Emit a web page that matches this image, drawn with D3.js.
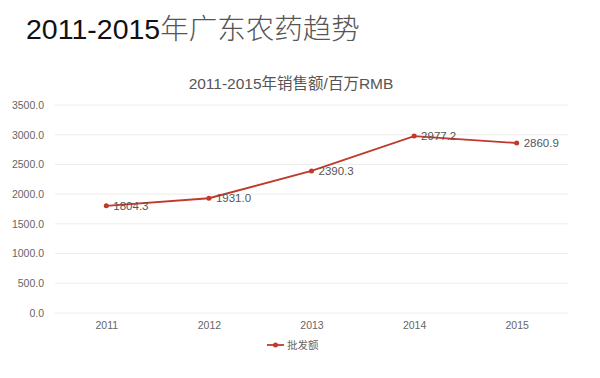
<!DOCTYPE html>
<html lang="zh">
<head>
    <meta charset="utf-8" />
    <title>2011-2015年广东农药趋势</title>
    <script src="https://cdnjs.cloudflare.com/ajax/libs/d3/7.8.5/d3.min.js"></script>
    <style>
        body { margin: 0; background: #fff; }
        svg { display: block; font-family: "Liberation Sans", Arial, "Noto Sans CJK SC", sans-serif; }
        .grid line { stroke: #ececec; }
        .axis text { fill: #666; font-size: 10.5px; }
    </style>
</head>
<body>
<script>
    // Data
    const years = ["2011", "2012", "2013", "2014", "2015"];
    const sales = [1804.3, 1931.0, 2390.3, 2977.2, 2860.9];
    const yTicks = [0, 500, 1000, 1500, 2000, 2500, 3000, 3500];
    const seriesName = "批发额";

    const W = 600, H = 378;
    const margin = { top: 105, bottom: 65, left: 55, right: 32 };
    const color = "#c0392b";

    const svg = d3.select("body").append("svg")
        .attr("width", W)
        .attr("height", H);

    // Page heading
    const head = svg.append("text")
        .attr("x", 26)
        .attr("y", 39)
        .style("font-size", "28.5px");
    head.append("tspan").attr("fill", "#111").text("2011-2015");
    head.append("tspan").attr("fill", "#555")
        .style("font-family", "'Noto Sans CJK SC', sans-serif")
        .style("font-weight", "300")
        .text("年广东农药趋势");

    // Chart title
    svg.append("text")
        .attr("x", 291)
        .attr("y", 89)
        .attr("text-anchor", "middle")
        .attr("fill", "#555")
        .style("font-size", "15.5px")
        .text("2011-2015年销售额/百万RMB");

    const x = d3.scalePoint()
        .domain(years)
        .range([margin.left, W - margin.right])
        .padding(0.5);

    const y = d3.scaleLinear()
        .domain([0, 3500])
        .range([H - margin.bottom, margin.top]);

    // Grid lines
    svg.append("g").attr("class", "grid")
        .selectAll("line")
        .data(yTicks)
        .join("line")
        .attr("x1", margin.left)
        .attr("x2", W - margin.right)
        .attr("y1", d => y(d))
        .attr("y2", d => y(d));

    // Y axis
    const gy = svg.append("g").attr("class", "axis")
        .attr("transform", `translate(${margin.left - 8},0)`)
        .call(d3.axisLeft(y).tickValues(yTicks).tickFormat(d3.format(".1f")).tickSize(0));
    gy.select(".domain").remove();

    // X axis
    const gx = svg.append("g").attr("class", "axis")
        .attr("transform", `translate(0,${H - margin.bottom + 6})`)
        .call(d3.axisBottom(x).tickSize(0));
    gx.select(".domain").remove();

    // Line
    const pts = years.map((yr, i) => ({ year: yr, value: sales[i] }));
    const line = d3.line().x(d => x(d.year)).y(d => y(d.value));

    svg.append("path")
        .datum(pts)
        .attr("fill", "none")
        .attr("stroke", color)
        .attr("stroke-width", 1.8)
        .attr("d", line);

    svg.selectAll(".dot")
        .data(pts)
        .join("circle")
        .attr("class", "dot")
        .attr("cx", d => x(d.year))
        .attr("cy", d => y(d.value))
        .attr("r", 2.5)
        .attr("fill", color);

    // Value labels
    svg.selectAll(".val")
        .data(pts)
        .join("text")
        .attr("class", "val")
        .attr("x", d => x(d.year) + 7)
        .attr("y", d => y(d.value))
        .attr("dy", "0.35em")
        .attr("fill", "#555")
        .style("font-size", "11.5px")
        .text(d => d3.format(".1f")(d.value));

    // Legend
    const lg = svg.append("g").attr("transform", "translate(267,345)");
    lg.append("line")
        .attr("x1", 0).attr("x2", 17)
        .attr("stroke", color).attr("stroke-width", 1.8);
    lg.append("circle").attr("cx", 8.5).attr("r", 2.5).attr("fill", color);
    lg.append("text")
        .attr("x", 20)
        .attr("dy", "0.35em")
        .attr("fill", "#666")
        .style("font-size", "10.5px")
        .text(seriesName);
</script>
</body>
</html>
